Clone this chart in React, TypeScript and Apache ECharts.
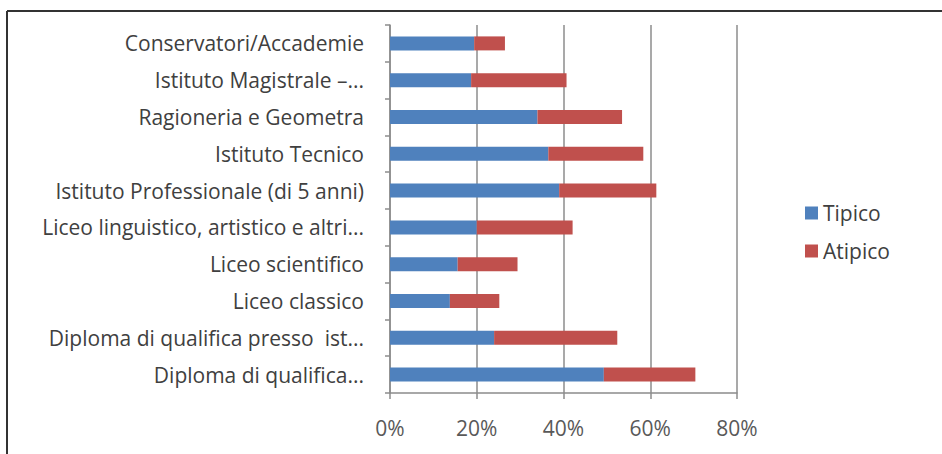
import React, { useEffect, useRef } from "react";
import * as echarts from "echarts";

const categories = [
  "Diploma di qualifica...",
  "Diploma di qualifica presso  ist...",
  "Liceo classico",
  "Liceo scientifico",
  "Liceo linguistico, artistico e altri...",
  "Istituto Professionale (di 5 anni)",
  "Istituto Tecnico",
  "Ragioneria e Geometra",
  "Istituto Magistrale –...",
  "Conservatori/Accademie",
];

const tipico = [49.3, 24.0, 13.8, 15.6, 20.0, 39.0, 36.5, 34.0, 18.7, 19.4];
const atipico = [21.1, 28.4, 11.4, 13.8, 22.1, 22.4, 21.9, 19.5, 22.0, 7.1];

const xTicks = { min: 0, max: 80, interval: 20 };

const FONT = "'Open Sans', sans-serif";

export default function App() {
  const ref = useRef<HTMLDivElement>(null);
  useEffect(() => {
    if (!ref.current) return;
    const chart = echarts.init(ref.current, null, { renderer: "svg" });
    chart.setOption({
      animation: false,
      backgroundColor: "#ffffff",
      grid: { left: 390, right: 205, top: 25, bottom: 61, containLabel: false },
      legend: {
        orient: "vertical",
        left: 800,
        top: 197,
        itemWidth: 13,
        itemHeight: 13,
        itemGap: 16,
        icon: "rect",
        data: ["Tipico", "Atipico"],
        textStyle: { fontFamily: FONT, fontSize: 21, lineHeight: 22, color: "#404040" },
      },
      xAxis: {
        type: "value",
        min: xTicks.min,
        max: xTicks.max,
        interval: xTicks.interval,
        axisLine: { show: true, lineStyle: { color: "#8c8c8c", width: 1.5 } },
        axisTick: { show: true, length: 6, lineStyle: { color: "#8c8c8c", width: 1.5 } },
        axisLabel: {
          formatter: "{value}%",
          margin: 24,
          fontFamily: FONT,
          fontSize: 21,
          color: "#595959",
        },
        splitLine: { show: true, lineStyle: { color: "#8c8c8c", width: 1.5 } },
      },
      yAxis: {
        type: "category",
        data: categories,
        axisLine: { show: true, lineStyle: { color: "#8c8c8c", width: 1.5 } },
        axisTick: { show: true, length: 5, lineStyle: { color: "#8c8c8c", width: 1.5 } },
        axisLabel: {
          margin: 26,
          fontFamily: FONT,
          fontSize: 21,
          color: "#404040",
        },
      },
      series: [
        {
          name: "Tipico",
          type: "bar",
          stack: "total",
          data: tipico,
          barWidth: 14,
          itemStyle: { color: "#4f81bd" },
        },
        {
          name: "Atipico",
          type: "bar",
          stack: "total",
          data: atipico,
          barWidth: 14,
          itemStyle: { color: "#c0504d" },
        },
      ],
      graphic: [
        { type: "line", shape: { x1: 7, y1: 11, x2: 942, y2: 11 }, style: { stroke: "#333", lineWidth: 2 } },
        { type: "line", shape: { x1: 7, y1: 11, x2: 7, y2: 454 }, style: { stroke: "#333", lineWidth: 2 } },
      ],
    });
    return () => chart.dispose();
  }, []);
  return (
    <div
      ref={ref}
      style={{ position: "fixed", left: 0, top: 0, width: 942, height: 454 }}
    />
  );
}
